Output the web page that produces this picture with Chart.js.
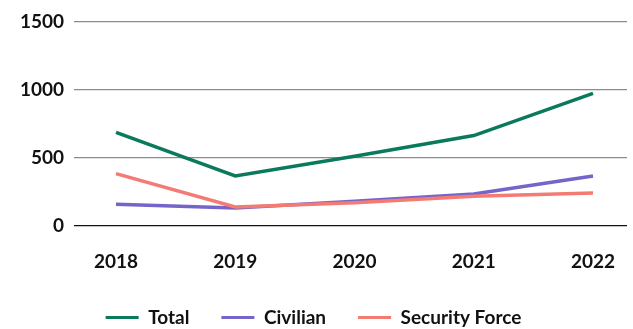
<!DOCTYPE html>
<html lang="en">
<head>
    <meta charset="UTF-8">
    <title>Casualties</title>
    <script src="https://cdn.jsdelivr.net/npm/chart.js"></script>
    <style>
        html, body { margin: 0; padding: 0; background: #fff; }
        #wrap { width: 633px; height: 329px; }
    </style>
</head>
<body>
    <div id="wrap"><canvas id="lineChart"></canvas></div>

    <script>
        const years = [2018, 2019, 2020, 2021, 2022];
        const totalValues = [686, 367, 512, 663, 972];
        const civilianValues = [160, 132, 182, 234, 367];
        const securityValues = [384, 140, 170, 218, 242];
        const yTicks = [0, 500, 1000, 1500];

        const toPoints = vals => years.map((y, i) => ({ x: y, y: vals[i] }));
        const font = { family: 'Lato', weight: 'bold', size: 19 };

        new Chart(document.getElementById('lineChart'), {
            type: 'line',
            data: {
                datasets: [
                    { label: 'Total', data: toPoints(totalValues), borderColor: '#0b7a5c', backgroundColor: '#0b7a5c', order: 0 },
                    { label: 'Civilian', data: toPoints(civilianValues), borderColor: '#7465c8', backgroundColor: '#7465c8', order: 2 },
                    { label: 'Security Force', data: toPoints(securityValues), borderColor: '#f47b73', backgroundColor: '#f47b73', order: 1 }
                ]
            },
            options: {
                responsive: true,
                maintainAspectRatio: false,
                animation: false,
                elements: {
                    line: { borderWidth: 3.5, tension: 0, borderCapStyle: 'butt' },
                    point: { radius: 0, hoverRadius: 0 }
                },
                layout: { padding: { top: 20, right: 6, bottom: -8, left: 0 } },
                scales: {
                    x: {
                        type: 'linear',
                        min: 2017.648,
                        max: 2022.285,
                        afterBuildTicks: s => { s.ticks = years.map(v => ({ value: v })); },
                        afterFit: s => { s.height = 50; },
                        grid: { display: false },
                        border: { display: false },
                        ticks: {
                            color: '#111',
                            font: font,
                            padding: 16,
                            autoSkip: false,
                            maxRotation: 0,
                            callback: v => String(v)
                        }
                    },
                    y: {
                        min: 0,
                        max: 1500,
                        afterBuildTicks: s => { s.ticks = yTicks.map(v => ({ value: v })); },
                        afterFit: s => { s.width = 74; },
                        border: { display: false },
                        grid: {
                            drawTicks: false,
                            lineWidth: 1.2,
                            color: c => c.tick && c.tick.value === 0 ? '#111' : '#8c8c8c'
                        },
                        ticks: {
                            color: '#111',
                            font: font,
                            padding: 10,
                            callback: v => String(v)
                        }
                    }
                },
                plugins: {
                    tooltip: { enabled: false },
                    legend: {
                        position: 'bottom',
                        labels: {
                            color: '#111',
                            font: { family: 'Lato', weight: 'bold', size: 19, lineHeight: 1 },
                            boxWidth: 33,
                            boxHeight: 3,
                            padding: 32,
                            sort: (a, b) => a.datasetIndex - b.datasetIndex,
                            generateLabels: chart => {
                                const items = Chart.defaults.plugins.legend.labels.generateLabels(chart);
                                items.forEach(it => { it.lineWidth = 0; it.fillStyle = it.strokeStyle; });
                                return items;
                            }
                        }
                    }
                }
            }
        });
    </script>
</body>
</html>
